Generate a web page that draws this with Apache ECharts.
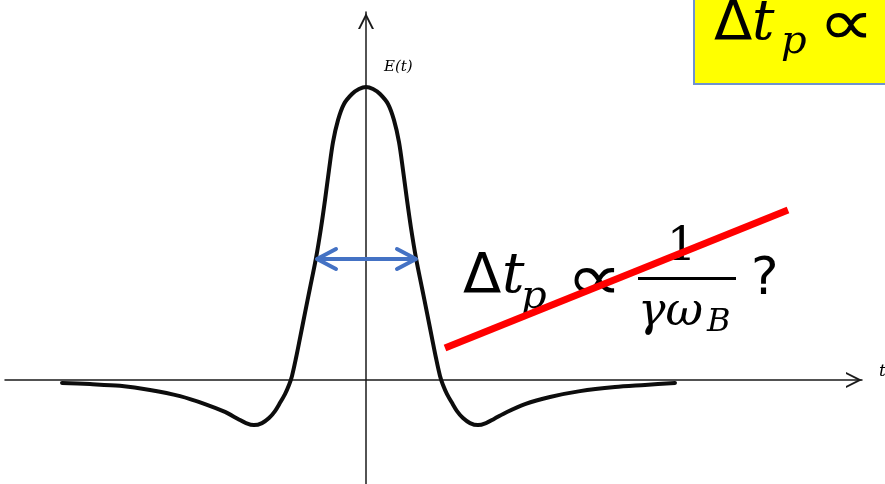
<!DOCTYPE html>
<html>
<head>
<meta charset="utf-8">
<script src="https://cdn.jsdelivr.net/npm/echarts@6/dist/echarts.min.js"></script>
<style>
  html, body { margin: 0; padding: 0; background: #ffffff; }
  #chart { width: 885px; height: 484px; }
</style>
</head>
<body>
<div id="chart"></div>
<script>
// Pulse profile E(t): time (arbitrary units) and field amplitude (peak = 1)
const pulseT = [-3.04, -2.76, -2.46, -2.16, -1.86, -1.61, -1.41, -1.28, -1.20, -1.12, -1.04, -0.97,
  -0.91, -0.86, -0.81, -0.77, -0.74, -0.70, -0.66, -0.61, -0.56, -0.50, -0.45, -0.41, -0.37, -0.33,
  -0.28, -0.22, -0.14, -0.07, 0.00, 0.07, 0.14, 0.22, 0.28, 0.33, 0.37, 0.41, 0.45, 0.50, 0.56, 0.61, 0.66,
  0.70, 0.74, 0.77, 0.81, 0.86, 0.91, 0.97, 1.04, 1.12, 1.20, 1.28, 1.41, 1.59, 1.84, 2.14,
  2.49, 2.79, 3.09];
const pulseE = [-0.010, -0.014, -0.020, -0.034, -0.055, -0.082, -0.109, -0.133, -0.147, -0.154, -0.147, -0.130,
  -0.106, -0.078, -0.048, -0.017, 0.014, 0.075, 0.143, 0.229, 0.314, 0.416, 0.519, 0.614, 0.717, 0.812,
  0.887, 0.942, 0.976, 0.993, 1.000, 0.993, 0.976, 0.942, 0.887, 0.812, 0.717, 0.614, 0.519, 0.416, 0.314, 0.229, 0.143,
  0.075, 0.014, -0.017, -0.048, -0.078, -0.106, -0.130, -0.147, -0.154, -0.147, -0.133, -0.109, -0.082, -0.058, -0.038,
  -0.024, -0.017, -0.010];

// Width marker across the pulse (start/end time, level)
const widthT = [-0.50, 0.51];
const widthE = 0.413;

// Strike-through line over the rejected scaling
const strikeT = [0.79, 4.22];
const strikeE = [0.109, 0.580];

const axisRange = { tMin: -3.61, tMax: 4.96, eMin: -0.35495, eMax: 1.2560 };

const chart = echarts.init(document.getElementById('chart'), null, { renderer: 'canvas' });

const chevron = 'path://M0,20 L10,0 L20,20 L17.4,20 L10,5.2 L2.6,20 Z';

function txt(text, x, y, font, sx) {
  return {
    type: 'text', z: 5, x: x, y: y, scaleX: sx || 1,
    style: { text: text, x: 0, y: 0, font: font, fill: '#000000', textVerticalAlign: 'middle', textAlign: 'left' }
  };
}

const serifI = '"DejaVu Serif"';
const sans = '"DejaVu Sans"';

const option = {
  animation: false,
  backgroundColor: '#ffffff',
  grid: { left: 5, right: 23, top: 12, bottom: 0, containLabel: false },
  xAxis: {
    type: 'value', min: axisRange.tMin, max: axisRange.tMax,
    axisLine: { onZero: true, lineStyle: { color: '#1a1a1a', width: 1.5 },
      symbol: ['none', chevron], symbolSize: [16, 16], symbolOffset: [0, -8] },
    axisTick: { show: false }, axisLabel: { show: false }, splitLine: { show: false }
  },
  yAxis: {
    type: 'value', min: axisRange.eMin, max: axisRange.eMax,
    axisLine: { onZero: true, lineStyle: { color: '#1a1a1a', width: 1.5 },
      symbol: ['none', chevron], symbolSize: [16, 18], symbolOffset: [0, -9] },
    axisTick: { show: false }, axisLabel: { show: false }, splitLine: { show: false }
  },
  series: [
    {
      type: 'line', z: 3,
      data: pulseT.map((t, i) => [t, pulseE[i]]),
      smooth: 0.3, showSymbol: false, symbol: 'none',
      lineStyle: { color: '#0d0d0d', width: 4, cap: 'round', join: 'round' }
    },
    {
      type: 'custom', z: 4,
      data: [[widthT[0], widthT[1], widthE]],
      renderItem: function (params, api) {
        const a = api.coord([api.value(0), api.value(2)]);
        const b = api.coord([api.value(1), api.value(2)]);
        const s = { stroke: '#4472C4', lineWidth: 4, lineCap: 'round', lineJoin: 'round', fill: null };
        return {
          type: 'group',
          children: [
            { type: 'line', shape: { x1: a[0] + 2, y1: a[1], x2: b[0] - 2, y2: b[1] }, style: s },
            { type: 'polyline', shape: { points: [[a[0] + 20, a[1] - 10], [a[0] + 1, a[1]], [a[0] + 20, a[1] + 10]] }, style: s },
            { type: 'polyline', shape: { points: [[b[0] - 20, b[1] - 10], [b[0] - 1, b[1]], [b[0] - 20, b[1] + 10]] }, style: s }
          ]
        };
      }
    },
    {
      type: 'line', z: 10,
      data: strikeT.map((t, i) => [t, strikeE[i]]),
      showSymbol: false, symbol: 'none',
      lineStyle: { color: '#FF0000', width: 7, cap: 'butt' }
    }
  ],
  graphic: [
    // highlighted box, top right
    { type: 'rect', z: 4, shape: { x: 694, y: -4, width: 200, height: 88 },
      style: { fill: '#FFFF00', stroke: '#6F92D0', lineWidth: 2 } },
    txt('\u0394', 714, 24, '56px ' + sans),
    txt('t', 752, 24, 'italic 56px ' + serifI),
    txt('p', 781, 43, 'italic 40px ' + serifI),
    txt('\u221D', 818, 28, '66px ' + sans, 1.2),

    // axis names
    txt('E(t)', 384, 67, 'italic 15px ' + serifI),
    txt('t', 879, 372, 'italic 17px ' + serifI),

    // Δt_p ∝ 1/(γ ω_B) ?
    txt('\u0394', 463, 277, '56px ' + sans),
    txt('t', 502, 277, 'italic 56px ' + serifI),
    txt('p', 521, 298, 'italic 40px ' + serifI),
    txt('\u221D', 566, 283, '66px ' + sans, 1.2),
    txt('1', 667, 248, '46px ' + serifI),
    { type: 'rect', z: 5, shape: { x: 638, y: 277, width: 98, height: 3 }, style: { fill: '#000000' } },
    txt('\u03B3\u03C9', 638, 313, 'italic 46px ' + serifI),
    txt('B', 707, 323, 'italic 32px ' + serifI),
    txt('?', 751, 280, '52px ' + sans)
  ]
};

chart.setOption(option);
</script>
</body>
</html>
